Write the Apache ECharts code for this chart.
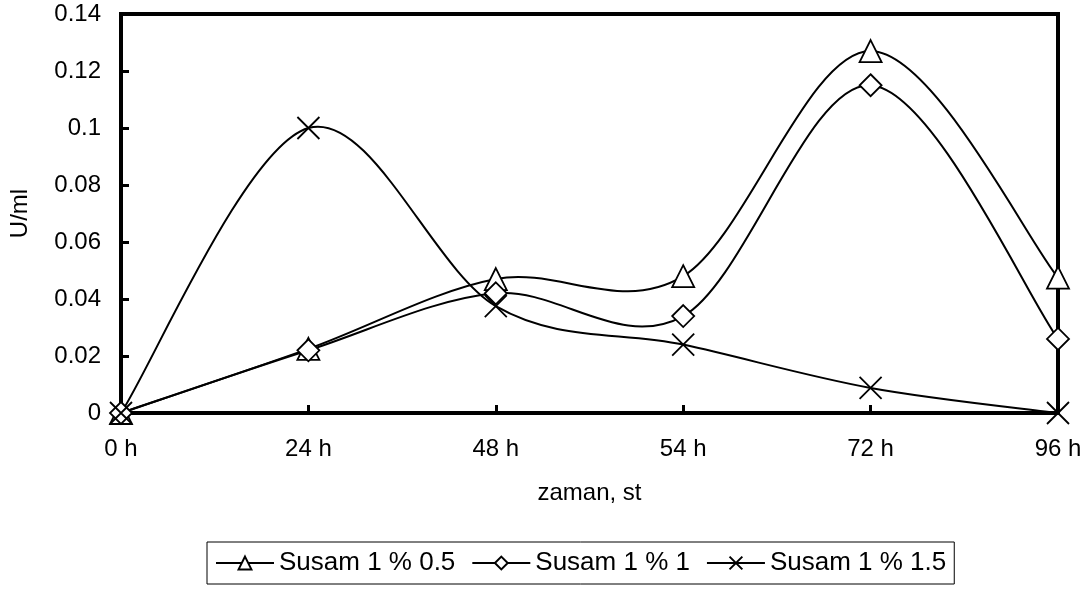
<!DOCTYPE html>
<html>
<head>
<meta charset="utf-8">
<script src="https://cdn.jsdelivr.net/npm/echarts@6/dist/echarts.min.js"></script>
<style>
  html, body { margin: 0; padding: 0; background: #fff; }
  #chart { width: 1088px; height: 592px; }
</style>
</head>
<body>
<div id="chart"></div>
<script>
// zaman noktalari
const categories = ['0 h', '24 h', '48 h', '54 h', '72 h', '96 h'];
// U/ml degerleri
const susam05 = [0, 0.0225, 0.047, 0.048, 0.127, 0.0475];
const susam1 = [0, 0.022, 0.042, 0.034, 0.115, 0.026];
const susam15 = [0, 0.1, 0.0375, 0.024, 0.0088, 0];
const seriesNames = ['Susam 1 % 0.5', 'Susam 1 % 1', 'Susam 1 % 1.5'];

(function () {
    const myChart = echarts.init(document.getElementById('chart'));
    const font = 'Liberation Sans, Arial, sans-serif';
    const cross = 'path://M0,0L10,10M10,0L0,10';

    // markers only, the curve itself is drawn by the custom series below
    function markerSeries(name, data, symbol, size) {
        return {
            name: name,
            type: 'line',
            data: data,
            z: 3,
            symbol: symbol,
            symbolSize: size,
            showAllSymbol: true,
            lineStyle: { color: '#000', width: 2, opacity: 0 },
            itemStyle: { color: '#fff', borderColor: '#000', borderWidth: 1.8 },
            emphasis: { disabled: true }
        };
    }

    // excel-like smoothed line (catmull-rom segments)
    function curveSeries(data) {
        return {
            type: 'custom',
            z: 1,
            silent: true,
            data: data.map(function (v, i) { return [i, v]; }),
            encode: { x: 0, y: 1 },
            renderItem: function (params, api) {
                const i = params.dataIndexInside;
                const n = data.length;
                if (i >= n - 1) return;
                const pt = function (k) {
                    k = Math.max(0, Math.min(n - 1, k));
                    return api.coord([api.value(0, k), api.value(1, k)]);
                };
                const p0 = pt(i - 1), p1 = pt(i), p2 = pt(i + 1), p3 = pt(i + 2);
                return {
                    type: 'bezierCurve',
                    shape: {
                        x1: p1[0], y1: p1[1],
                        x2: p2[0], y2: p2[1],
                        cpx1: p1[0] + (p2[0] - p0[0]) / 6,
                        cpy1: p1[1] + (p2[1] - p0[1]) / 6,
                        cpx2: p2[0] - (p3[0] - p1[0]) / 6,
                        cpy2: p2[1] - (p3[1] - p1[1]) / 6
                    },
                    style: { stroke: '#000', fill: null, lineWidth: 2 }
                };
            }
        };
    }

    const option = {
        animation: false,
        color: ['#000'],
        grid: {
            left: 120, right: 30, top: 14, bottom: 179,
            show: true, borderColor: '#000', borderWidth: 4
        },
        legend: {
            left: 207,
            bottom: 8,
            borderColor: '#000',
            borderWidth: 1,
            borderRadius: 0,
            padding: [8, 8],
            itemWidth: 58,
            itemHeight: 16,
            itemGap: 16,
            lineStyle: { color: '#000', width: 2, opacity: 1 },
            textStyle: { fontFamily: font, fontSize: 26, color: '#000' },
            data: seriesNames
        },
        xAxis: {
            type: 'category',
            data: categories,
            boundaryGap: false,
            name: 'zaman, st',
            nameLocation: 'middle',
            nameGap: 68,
            nameTextStyle: { fontFamily: font, fontSize: 24, color: '#000' },
            axisLine: { lineStyle: { color: '#000', width: 4 } },
            axisTick: { inside: true, length: 8, lineStyle: { color: '#000', width: 3 } },
            axisLabel: { fontFamily: font, fontSize: 24, color: '#000', margin: 24 },
            splitLine: { show: false }
        },
        yAxis: {
            type: 'value',
            min: 0,
            max: 0.14,
            interval: 0.02,
            name: 'U/ml',
            nameLocation: 'middle',
            nameGap: 89,
            nameTextStyle: { fontFamily: font, fontSize: 24, color: '#000' },
            axisLine: { show: true, lineStyle: { color: '#000', width: 4 } },
            axisTick: { show: true, inside: true, length: 8, lineStyle: { color: '#000', width: 3 } },
            axisLabel: { fontFamily: font, fontSize: 24, color: '#000', margin: 20 },
            splitLine: { show: false }
        },
        series: [
            markerSeries(seriesNames[0], susam05, 'triangle', 22),
            markerSeries(seriesNames[1], susam1, 'diamond', 22),
            markerSeries(seriesNames[2], susam15, cross, 22),
            curveSeries(susam05),
            curveSeries(susam1),
            curveSeries(susam15)
        ]
    };

    myChart.setOption(option);
    window.addEventListener('resize', function () {
        myChart.resize();
    });
})();
</script>
</body>
</html>
